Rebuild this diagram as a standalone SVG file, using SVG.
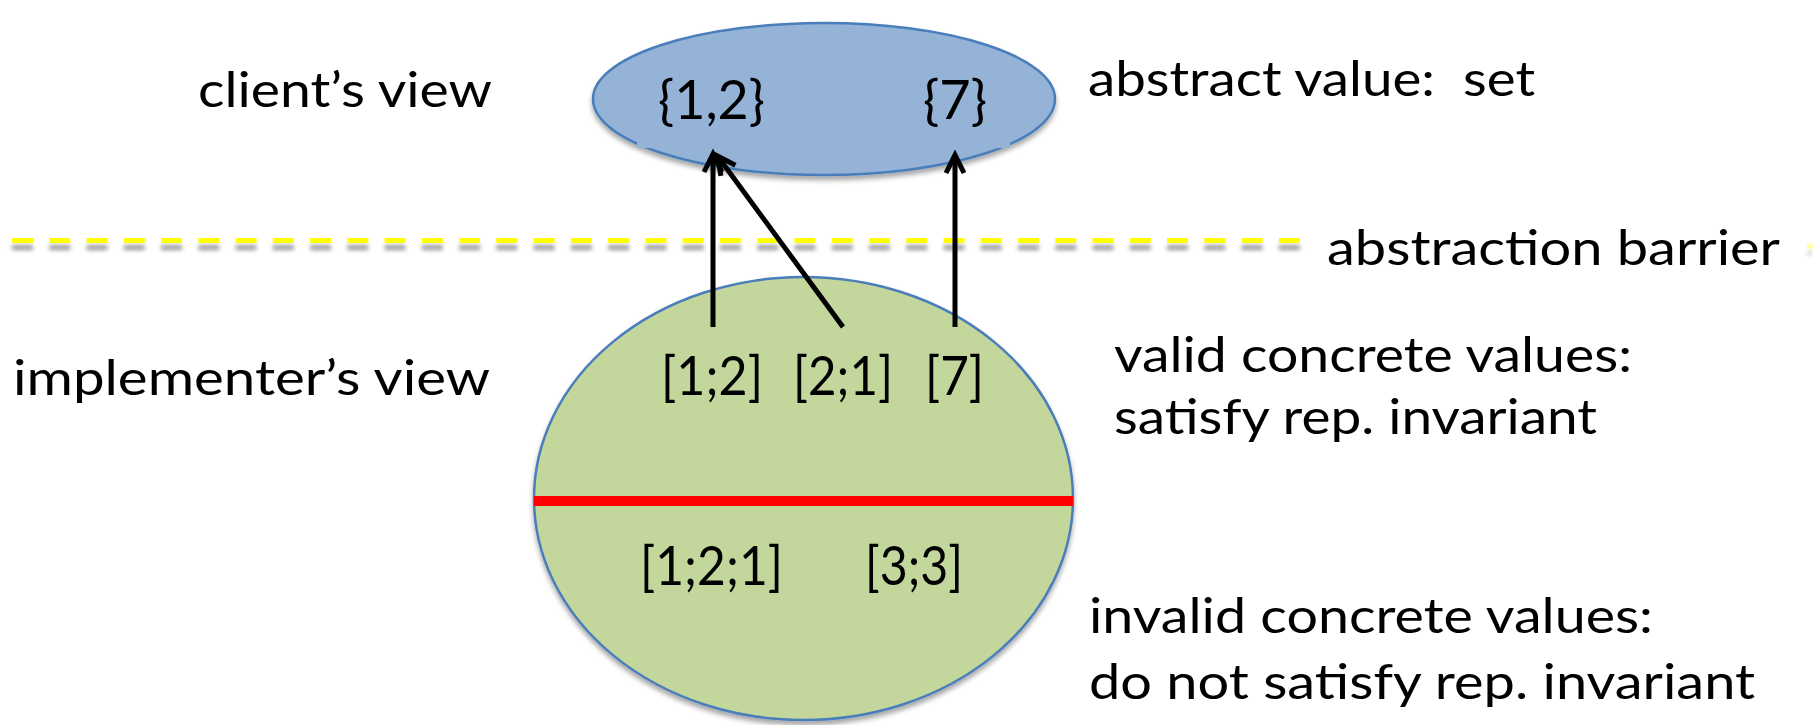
<svg xmlns="http://www.w3.org/2000/svg" width="1813" height="725" viewBox="0 0 1813 725">
  <style>
    .lbl { font-family: Lato, "Open Sans", "Liberation Sans", sans-serif; font-size: 48px; fill: #000; white-space: pre; }
    .val { font-family: Lato, "Open Sans", "Liberation Sans", sans-serif; font-size: 54px; fill: #000; }
    .conn { stroke: #000; stroke-width: 5; fill: none; stroke-linecap: butt; marker-end: url(#openArrow); }
  </style>
  <defs>
    <!-- soft drop shadow used by the shapes -->
    <filter id="shadow" x="-10%" y="-20%" width="120%" height="150%">
      <feGaussianBlur in="SourceAlpha" stdDeviation="2.5"/>
      <feOffset dx="0" dy="4" result="off"/>
      <feFlood flood-color="#000" flood-opacity="0.35"/>
      <feComposite in2="off" operator="in" result="sh"/>
      <feMerge><feMergeNode in="sh"/><feMergeNode in="SourceGraphic"/></feMerge>
    </filter>
    <!-- shadow for the dashed barrier (user-space region: the line has no height) -->
    <filter id="dashShadow" filterUnits="userSpaceOnUse" x="0" y="220" width="1813" height="50">
      <feGaussianBlur in="SourceAlpha" stdDeviation="2"/>
      <feOffset dx="0" dy="7" result="off"/>
      <feFlood flood-color="#000" flood-opacity="0.4"/>
      <feComposite in2="off" operator="in" result="sh"/>
      <feMerge><feMergeNode in="sh"/><feMergeNode in="SourceGraphic"/></feMerge>
    </filter>
    <marker id="openArrow" markerUnits="userSpaceOnUse" viewBox="-26 -15 32 30" refX="0" refY="0" markerWidth="32" markerHeight="30" orient="auto">
      <path d="M -18 -9 L 0 0 L -18 9" fill="none" stroke="#000" stroke-width="5" stroke-linejoin="miter"/>
    </marker>
  </defs>

  <rect width="1813" height="725" fill="#fff"/>

  <!-- side labels -->
  <g id="labels">
    <text class="lbl" x="198" y="107" textLength="294" lengthAdjust="spacingAndGlyphs">client’s view</text>
    <text class="lbl" x="13" y="395" textLength="477" lengthAdjust="spacingAndGlyphs">implementer’s view</text>
    <text class="lbl" x="1088" y="96" textLength="447" lengthAdjust="spacingAndGlyphs">abstract value:  set</text>
    <text class="lbl" x="1114" y="372" textLength="518" lengthAdjust="spacingAndGlyphs">valid concrete values:</text>
    <text class="lbl" x="1114" y="434" textLength="483" lengthAdjust="spacingAndGlyphs">satisfy rep. invariant</text>
    <text class="lbl" x="1089" y="633" textLength="564" lengthAdjust="spacingAndGlyphs">invalid concrete values:</text>
    <text class="lbl" x="1089" y="699" textLength="666" lengthAdjust="spacingAndGlyphs">do not satisfy rep. invariant</text>
  </g>

  <!-- abstraction barrier -->
  <g id="barrier">
    <line x1="12" y1="240.5" x2="1300" y2="240.5" stroke="#FFFF00" stroke-width="5" stroke-dasharray="21 16.26" filter="url(#dashShadow)"/>
    <line x1="1807" y1="246" x2="1813" y2="246" stroke="#FFFF00" stroke-width="5" opacity="0.35" filter="url(#dashShadow)"/>
    <text class="lbl" x="1327" y="265" textLength="453" lengthAdjust="spacingAndGlyphs">abstraction barrier</text>
  </g>

  <!-- abstract values (set) -->
  <g id="abstract">
    <ellipse cx="824" cy="99" rx="231" ry="76" fill="#95B3D7" stroke="#4A7EBB" stroke-width="2.5" filter="url(#shadow)"/>
    <rect x="637" y="70" width="373" height="78" fill="#95B3D7"/>
    <text class="val" x="658" y="119" textLength="107" lengthAdjust="spacingAndGlyphs">{1,2}</text>
    <text class="val" x="923" y="119" textLength="64" lengthAdjust="spacingAndGlyphs">{7}</text>
  </g>

  <!-- concrete values (lists) -->
  <g id="concrete">
    <ellipse cx="803.5" cy="498.5" rx="269.5" ry="221.5" fill="#C3D69B" stroke="#4A7EBB" stroke-width="2.5" filter="url(#shadow)"/>
    <line x1="534" y1="501" x2="1073" y2="501" stroke="#FF0000" stroke-width="10"/>
    <text class="val" x="661" y="395" textLength="102" lengthAdjust="spacingAndGlyphs">[1;2]</text>
    <text class="val" x="793" y="395" textLength="100" lengthAdjust="spacingAndGlyphs">[2;1]</text>
    <text class="val" x="925" y="395" textLength="59" lengthAdjust="spacingAndGlyphs">[7]</text>
    <text class="val" x="640" y="585" textLength="143" lengthAdjust="spacingAndGlyphs">[1;2;1]</text>
    <text class="val" x="865" y="585" textLength="98" lengthAdjust="spacingAndGlyphs">[3;3]</text>
  </g>

  <!-- abstraction function arrows -->
  <g id="connectors">
    <line class="conn" x1="713" y1="327" x2="713" y2="154"/>
    <line class="conn" x1="843" y1="327" x2="717.5" y2="156"/>
    <line class="conn" x1="955" y1="327" x2="955" y2="155"/>
  </g>
</svg>
